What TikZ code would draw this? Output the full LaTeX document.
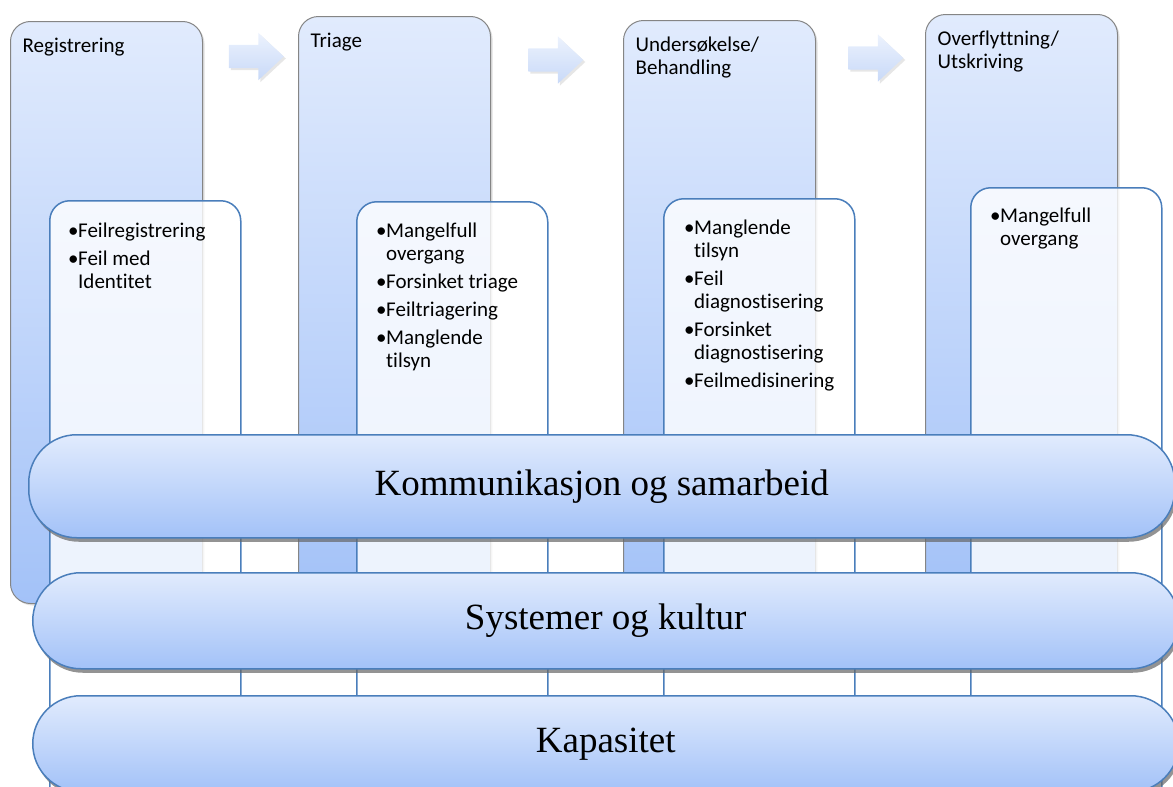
\documentclass[tikz,border=0pt]{standalone}
\usepackage{fontspec}
\setmainfont{Liberation Serif}
\newfontfamily\calibri[Ligatures=NoCommon]{Carlito}
\usetikzlibrary{calc,shapes.arrows,shadows}
\definecolor{stagegrey}{HTML}{858585}
\definecolor{lineblue}{HTML}{4A7EBB}
\definecolor{shadetop}{HTML}{E1EBFD}
\definecolor{shadebot}{HTML}{A3C2F8}
\definecolor{arrowtop}{HTML}{ECF2FD}
\definecolor{arrowbot}{HTML}{C8D9F8}
\newcommand{\blt}{\makebox[10pt][l]{\textbullet}}
\newcommand{\ind}{\hspace*{10pt}}
\newcommand{\topline}{\rule{0pt}{15pt}}
\tikzset{
  stage/.style={draw=stagegrey, line width=1pt, rounded corners=20pt,
    top color=shadetop, bottom color=shadebot, anchor=north west, inner sep=0pt,
    minimum width=192pt, minimum height=582pt,
    drop shadow={shadow xshift=2pt, shadow yshift=-2pt, opacity=0.25}},
  stagetitle/.style={anchor=north west, inner sep=0pt, align=left,
    font=\calibri\fontsize{21}{23}\selectfont},
  flow/.style={single arrow, single arrow head extend=12pt, single arrow tip angle=86,
    inner sep=0pt, text height=11.5pt, text depth=11.5pt, minimum height=55pt,
    top color=arrowtop, bottom color=arrowbot,
    drop shadow={shadow xshift=2pt, shadow yshift=-2pt, opacity=0.2}},
  riskbox/.style={draw=lineblue, line width=1.5pt, rounded corners=20pt,
    fill=white, fill opacity=0.8, anchor=north west, inner sep=0pt,
    minimum width=191pt, minimum height=640pt},
  risklist/.style={anchor=north west, inner sep=0pt, align=left,
    font=\calibri\fontsize{21}{23}\selectfont},
  band/.style={draw=lineblue, line width=1.5pt, rounded corners=48pt,
    top color=shadetop, bottom color=shadebot, anchor=north west, inner sep=0pt,
    minimum width=1146pt, font=\fontsize{37}{40}\selectfont,
    drop shadow={shadow xshift=2pt, shadow yshift=-4pt, fill=black!60, opacity=0.7}},
}
\begin{document}
\begin{tikzpicture}[x=1pt,y=-1pt]
  \useasboundingbox (0,0) rectangle (1173,787);
  \clip (0,0) rectangle (1173,787);
  % stages
  \foreach \x/\y [count=\i] in {10/21,298/16,623/20,925/14}{%
    \node[stage] (c\i) at (\x,\y) {};
  }
  \node[stagetitle] (t1) at ($(c1.north west)+(12.5,16)$) {\topline Registrering};
  \node[stagetitle] (t2) at ($(c2.north west)+(12.5,16)$) {\topline Triage};
  \node[stagetitle] (t3) at ($(c3.north west)+(12.5,16)$) {\topline Undersøkelse/\\Behandling};
  \node[stagetitle] (t4) at ($(c4.north west)+(12.5,16)$) {\topline Overflyttning/\\Utskriving};
  % arrows between the stages
  \node[flow] (a1) at (250,56.5) {};
  \node[flow] (a2) at (549.5,60) {};
  \node[flow] (a3) at (869.5,58) {};
  % risk boxes
  \foreach \x/\y [count=\i] in {49/200,356/201,663/198,970/187}{%
    \node[riskbox] (r\i) at (\x,\y) {};
  }
  \node[risklist] (l1) at ($(r1.north west)+(19,22)$)
    {\topline\blt Feilregistrering\\[5pt]\blt Feil med\\\ind Identitet};
  \node[risklist] (l2) at ($(r2.north west)+(20,21)$)
    {\topline\blt Mangelfull\\\ind overgang\\[5pt]\blt Forsinket triage\\[5pt]\blt Feiltriagering\\[5pt]\blt Manglende\\\ind tilsyn};
  \node[risklist] (l3) at ($(r3.north west)+(21,21)$)
    {\topline\blt Manglende\\\ind tilsyn\\[5pt]\blt Feil\\\ind diagnostisering\\[5pt]\blt Forsinket\\\ind diagnostisering\\[5pt]\blt Feilmedisinering};
  \node[risklist] (l4) at ($(r4.north west)+(20,20)$)
    {\topline\blt Mangelfull\\\ind overgang};
  % cross-cutting bands
  \node[band, minimum height=103pt] (k1) at (28,434) {Kommunikasjon og samarbeid};
  \node[band, minimum height=96pt] (k2) at (32,572) {Systemer og kultur};
  \node[band, minimum height=96pt] (k3) at (32,695) {Kapasitet};
\end{tikzpicture}
\end{document}
